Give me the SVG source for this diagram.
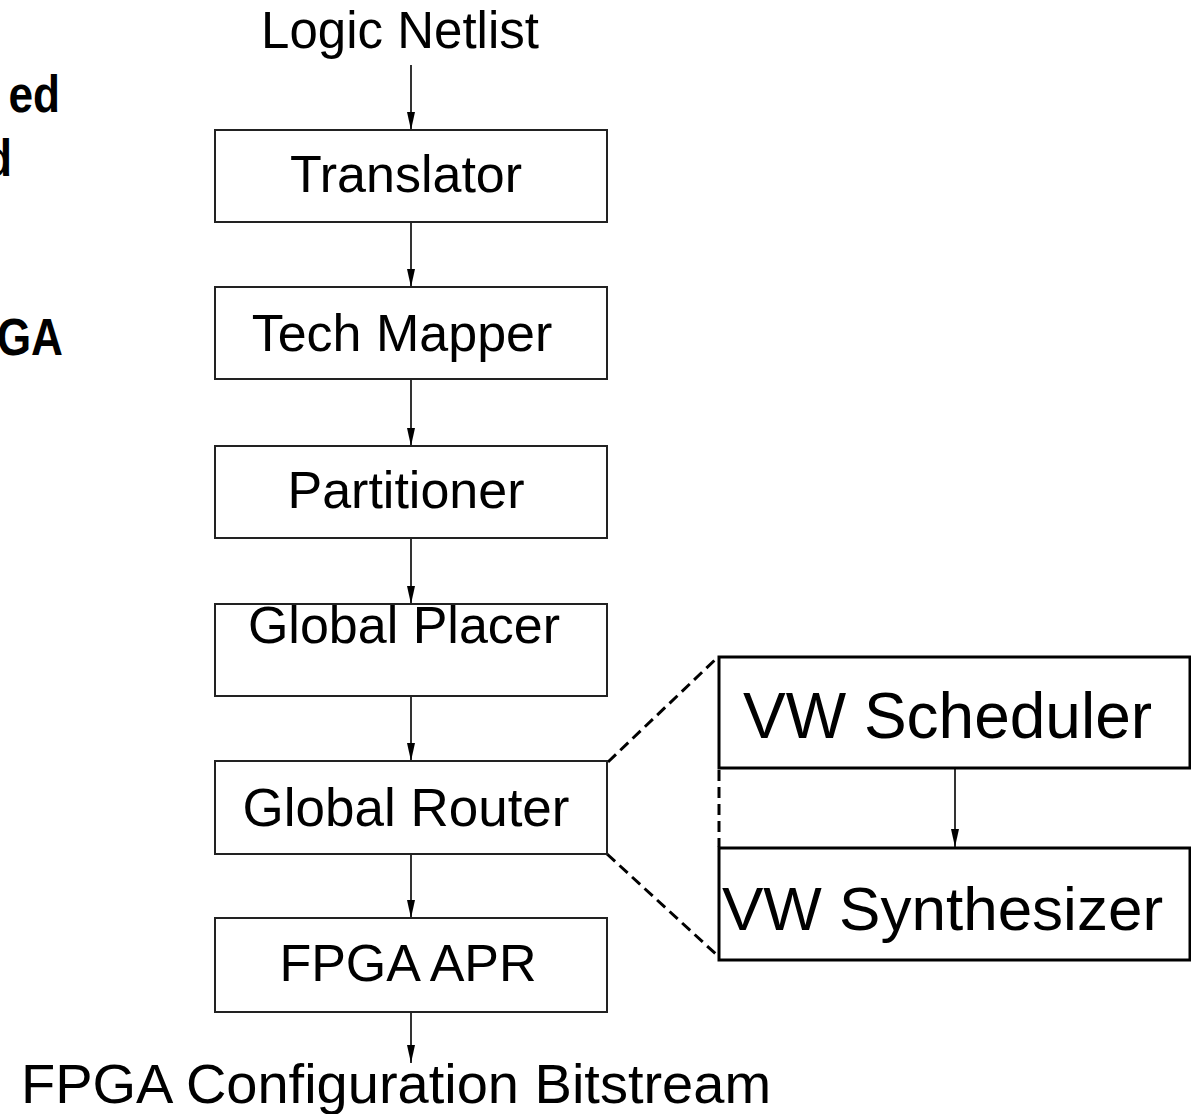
<svg xmlns="http://www.w3.org/2000/svg" width="1191" height="1114" viewBox="0 0 1191 1114">
<defs>
<marker id="ah" markerUnits="userSpaceOnUse" markerWidth="10" markerHeight="22" viewBox="-5 -20 10 22" refX="0" refY="0" orient="auto-start-reverse">
<path d="M0,0 L-4,-18 L4,-18 Z" fill="#000" transform="rotate(-90)"/>
</marker>
<style>
.box{fill:#fff;stroke:#222;stroke-width:2}
.bigbox{fill:#fff;stroke:#000;stroke-width:3}
.lbl{font-family:"Liberation Sans",Arial,sans-serif;fill:#000}
.conn{stroke:#000;stroke-width:1.6;fill:none}
.dash{stroke:#000;stroke-width:3;fill:none;stroke-dasharray:11 6}
.side{font-family:"Liberation Sans",Arial,sans-serif;font-weight:bold;font-size:52px;fill:#000}
</style>
</defs>
<rect width="1191" height="1114" fill="#fff"/>
<g id="side-text">
<text class="side" text-anchor="end" transform="translate(60,112) scale(0.85,1)">ed</text>
<text class="side" text-anchor="end" transform="translate(12,176) scale(0.85,1)">d</text>
<text class="side" text-anchor="end" transform="translate(63,355) scale(0.85,1)">GA</text>
</g>
<g id="connectors">
<line class="conn" x1="411" y1="65" x2="411" y2="130"/>
<line class="conn" x1="411" y1="222" x2="411" y2="287"/>
<line class="conn" x1="411" y1="379" x2="411" y2="446"/>
<line class="conn" x1="411" y1="538" x2="411" y2="604"/>
<line class="conn" x1="411" y1="696" x2="411" y2="761"/>
<line class="conn" x1="411" y1="854" x2="411" y2="918"/>
<line class="conn" x1="411" y1="1012" x2="411" y2="1063"/>
<line class="conn" x1="955" y1="768" x2="955" y2="847"/>
<path d="M411,130 L407,112 L415,112 Z"/>
<path d="M411,287 L407,269 L415,269 Z"/>
<path d="M411,446 L407,428 L415,428 Z"/>
<path d="M411,604 L407,586 L415,586 Z"/>
<path d="M411,761 L407,743 L415,743 Z"/>
<path d="M411,918 L407,900 L415,900 Z"/>
<path d="M411,1063 L407,1045 L415,1045 Z"/>
<path d="M955,847 L951,829 L959,829 Z"/>
<line class="dash" x1="608" y1="762" x2="718" y2="657"/>
<line class="dash" x1="607" y1="854" x2="718" y2="956"/>
<line class="dash" x1="719" y1="770" x2="719" y2="847"/>
</g>
<g id="logic-netlist">
<text class="lbl" x="400" y="48" font-size="51" text-anchor="middle">Logic Netlist</text>
</g>
<g id="translator">
<rect class="box" x="215" y="130" width="392" height="92"/>
<text class="lbl" x="406" y="192" font-size="52" text-anchor="middle">Translator</text>
</g>
<g id="tech-mapper">
<rect class="box" x="215" y="287" width="392" height="92"/>
<text class="lbl" x="402" y="351" font-size="52" text-anchor="middle">Tech Mapper</text>
</g>
<g id="partitioner">
<rect class="box" x="215" y="446" width="392" height="92"/>
<text class="lbl" x="406" y="508" font-size="52" text-anchor="middle">Partitioner</text>
</g>
<g id="global-placer">
<rect class="box" x="215" y="604" width="392" height="92"/>
<text class="lbl" x="404" y="643" font-size="52" text-anchor="middle">Global Placer</text>
</g>
<g id="global-router">
<rect class="box" x="215" y="761" width="392" height="93"/>
<text class="lbl" x="406" y="826" font-size="53" text-anchor="middle">Global Router</text>
</g>
<g id="fpga-apr">
<rect class="box" x="215" y="918" width="392" height="94"/>
<text class="lbl" x="408" y="981" font-size="52" text-anchor="middle">FPGA APR</text>
</g>
<g id="bitstream">
<text class="lbl" x="396" y="1103" font-size="56" text-anchor="middle">FPGA Configuration Bitstream</text>
</g>
<g id="vw-scheduler">
<rect class="bigbox" x="719" y="657" width="471" height="111"/>
<text class="lbl" x="743" y="738" font-size="64">VW Scheduler</text>
</g>
<g id="vw-synthesizer">
<rect class="bigbox" x="719" y="848" width="471" height="112"/>
<text class="lbl" x="722" y="930" font-size="62">VW Synthesizer</text>
</g>
</svg>
